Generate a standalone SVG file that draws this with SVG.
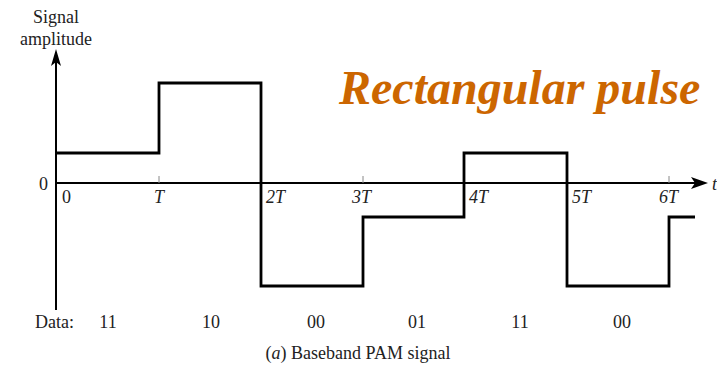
<svg xmlns="http://www.w3.org/2000/svg" width="717" height="367" viewBox="0 0 717 367">
  <defs>
    <style>
      .lbl { font-size: 18px; fill: #222; }
      .it { font-style: italic; }
      .axis { stroke: #000; stroke-width: 2; fill: none; }
      .tick { stroke: #888; stroke-width: 1; }
      .sig { stroke: #000; stroke-width: 2.8; fill: none; stroke-linejoin: miter; }
    </style>
  </defs>

  <rect width="717" height="367" fill="#fff"/>

  <g id="axes">
    <line class="axis" x1="56" y1="310" x2="56" y2="60"/>
    <path d="M56,49 L61,66 L56,62 L51,66 Z" fill="#000"/>
    <line class="axis" x1="56" y1="183" x2="696" y2="183"/>
    <path d="M708,183 L691,177 L695,183 L691,189 Z" fill="#000"/>
    <line class="tick" x1="159" y1="176" x2="159" y2="183"/>
    <line class="tick" x1="363" y1="176" x2="363" y2="183"/>
    <line class="tick" x1="669" y1="176" x2="669" y2="183"/>
  </g>

  <g id="signal">
    <polyline class="sig" points="56,153 159,153 159,83 261,83 261,286 363,286 363,217 464,217 464,153 567,153 567,286 669,286 669,217 695,217"/>
  </g>

  <g id="axis-labels" font-family="Liberation Serif, Times New Roman, serif">
    <text class="lbl" x="56" y="23" text-anchor="middle">Signal</text>
    <text class="lbl" x="56" y="45" text-anchor="middle">amplitude</text>
    <text class="lbl" x="39" y="190">0</text>
    <text class="lbl it" x="712" y="190">t</text>
    <text class="lbl" x="62" y="203">0</text>
    <text class="lbl it" x="159" y="203" text-anchor="middle">T</text>
    <text class="lbl it" x="266" y="203">2T</text>
    <text class="lbl it" x="352" y="203">3T</text>
    <text class="lbl it" x="469" y="203">4T</text>
    <text class="lbl it" x="572" y="203">5T</text>
    <text class="lbl it" x="659" y="203">6T</text>
  </g>

  <g id="data-row" font-family="Liberation Serif, Times New Roman, serif">
    <text class="lbl" x="35" y="328">Data:</text>
    <text class="lbl" x="108" y="328" text-anchor="middle">11</text>
    <text class="lbl" x="211" y="328" text-anchor="middle">10</text>
    <text class="lbl" x="316" y="328" text-anchor="middle">00</text>
    <text class="lbl" x="417" y="328" text-anchor="middle">01</text>
    <text class="lbl" x="520" y="328" text-anchor="middle">11</text>
    <text class="lbl" x="622" y="328" text-anchor="middle">00</text>
  </g>

  <g id="caption" font-family="Liberation Serif, Times New Roman, serif">
    <text class="lbl" x="358" y="359" text-anchor="middle">(<tspan class="it">a</tspan>) Baseband PAM signal</text>
  </g>

  <g id="title">
    <text x="339" y="104" font-family="Liberation Serif, Times New Roman, serif" font-size="48" font-weight="bold" font-style="italic" fill="#CC6600">Rectangular pulse</text>
  </g>
</svg>
